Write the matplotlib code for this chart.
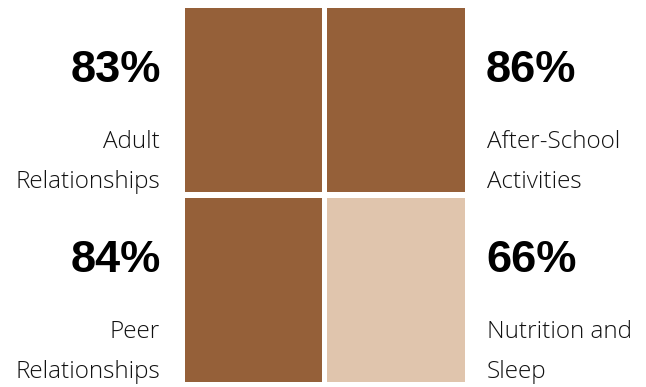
import matplotlib
matplotlib.use("Agg")
import matplotlib.pyplot as plt

categories = ["Adult\nRelationships", "After-School\nActivities", "Peer\nRelationships", "Nutrition and\nSleep"]
values = [83, 86, 84, 66]
threshold = 80

DARK = "#956039"
LIGHT = "#E0C5AD"

num_font = "Liberation Sans"
lab_font = "Open Sans"

W, H = 646, 387
fig = plt.figure(figsize=(W / 100, H / 100), dpi=100)
ax = fig.add_axes([0, 0, 1, 1])
ax.set_xlim(0, W)
ax.set_ylim(H, 0)
ax.axis("off")

# grid layout (pixels)
col_left = [185, 327]
col_w = [137, 138]
row_top = [8, 198]
row_h = 184

for i, (cat, v) in enumerate(zip(categories, values)):
    r, c = divmod(i, 2)
    color = DARK if v >= threshold else LIGHT
    ax.bar(col_left[c], row_h, width=col_w[c], bottom=row_top[r], align="edge",
           color=color, edgecolor="none")
    if c == 0:
        nx, tx, ha = 161, 160, "right"
    else:
        nx, tx, ha = 486, 487, "left"
    ty = row_top[r]
    ax.text(nx, ty + 74.5, f"{v}%", ha=ha, va="baseline", fontsize=32.5,
            fontweight="bold", family=num_font, color="black")
    for k, line in enumerate(cat.split("\n")):
        ax.text(tx, ty + 140 + 40 * k, line, ha=ha, va="baseline", fontsize=17.5,
                family=lab_font, fontweight="light", color="#111111")

fig.savefig("out.png", dpi=100)
